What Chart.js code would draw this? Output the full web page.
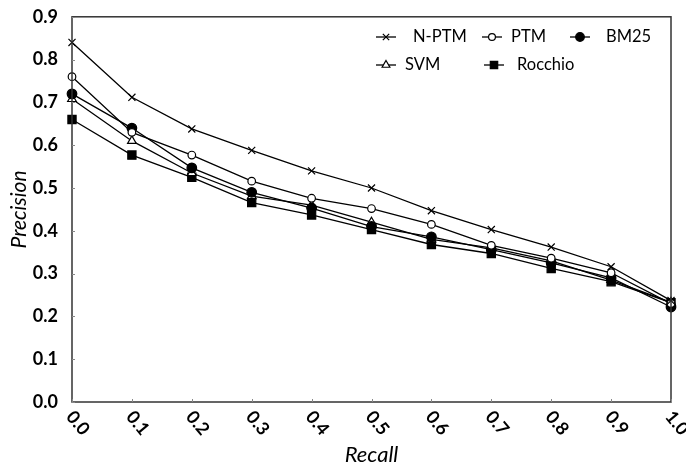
<!DOCTYPE html>
<html><head><meta charset="utf-8">
<script src="https://cdn.jsdelivr.net/npm/chart.js@4"></script>
<style>html,body{margin:0;padding:0;background:#fff}#wrap{width:686px;height:469px;position:relative}</style>
</head><body><div id="wrap"><canvas id="c"></canvas></div>
<script>
const recall = ['0.0','0.1','0.2','0.3','0.4','0.5','0.6','0.7','0.8','0.9','1.0'];
const yTicks = [0,0.1,0.2,0.3,0.4,0.5,0.6,0.7,0.8,0.9];
const seriesNames = ['N-PTM','PTM','BM25','SVM','Rocchio'];
const nptm    = [0.840,0.712,0.638,0.588,0.540,0.500,0.447,0.403,0.362,0.316,0.237];
const ptm     = [0.760,0.630,0.577,0.516,0.476,0.452,0.415,0.366,0.336,0.302,0.230];
const bm25    = [0.720,0.640,0.547,0.490,0.453,0.410,0.386,0.356,0.325,0.290,0.222];
const svm     = [0.708,0.610,0.535,0.481,0.460,0.420,0.380,0.360,0.330,0.285,0.233];
const rocchio = [0.660,0.577,0.525,0.466,0.437,0.403,0.368,0.347,0.312,0.281,0.232];

const styles = [
  {pointStyle:'crossRot', pointRadius:5, pointBackgroundColor:'#000'},
  {pointStyle:'circle', pointRadius:3.8, pointBackgroundColor:'#fff'},
  {pointStyle:'circle', pointRadius:4.8, pointBackgroundColor:'#000'},
  {pointStyle:'triangle', pointRadius:5, pointBackgroundColor:'#fff'},
  {pointStyle:'rect', pointRadius:5.8, pointBackgroundColor:'#000'}
];
const allData = [nptm, ptm, bm25, svm, rocchio];
const datasets = allData.map((d,i)=>Object.assign({
  label: seriesNames[i], data: d, borderColor:'#000', borderWidth:1.3,
  pointBorderColor:'#000', pointBorderWidth:1.2, tension:0, fill:false
}, styles[i]));

const legendPos = [
  {mx:386, my:37, tx:413},
  {mx:492, my:37, tx:511},
  {mx:580, my:37, tx:606},
  {mx:386, my:65, tx:405},
  {mx:494, my:65, tx:517}
];

const decor = {
  id:'decor',
  afterDraw(chart){
    const ctx = chart.ctx, a = chart.chartArea;
    const xs = chart.scales.x, ys = chart.scales.y;
    ctx.save();
    ctx.strokeStyle = '#333'; ctx.lineWidth = 1.5;
    ctx.strokeRect(a.left, a.top, a.right - a.left, a.bottom - a.top);
    ctx.strokeStyle = '#888'; ctx.lineWidth = 1;
    yTicks.forEach(v=>{ const y = Math.round(ys.getPixelForValue(v))+0.5;
      ctx.beginPath(); ctx.moveTo(a.left, y); ctx.lineTo(a.left+3, y); ctx.stroke(); });
    recall.forEach((r,i)=>{ const x = Math.round(xs.getPixelForValue(i))+0.5;
      ctx.beginPath(); ctx.moveTo(x, a.bottom); ctx.lineTo(x, a.bottom-3); ctx.stroke(); });
    ctx.fillStyle = '#000';
    ctx.font = 'bold 18px Lato';
    ctx.textAlign = 'left'; ctx.textBaseline = 'middle';
    recall.forEach((r,i)=>{
      const x = xs.getPixelForValue(i);
      ctx.save();
      ctx.translate(x - 1, a.bottom + 13);
      ctx.rotate(50*Math.PI/180);
      ctx.fillText(r, -2, 0);
      ctx.restore();
    });
    ctx.font = '16.5px Lato';
    ctx.textBaseline = 'middle';
    chart.data.datasets.forEach((ds,i)=>{
      const p = legendPos[i];
      ctx.strokeStyle = '#000'; ctx.lineWidth = 1.3;
      ctx.beginPath(); ctx.moveTo(p.mx-10, p.my); ctx.lineTo(p.mx+10, p.my); ctx.stroke();
      ctx.fillStyle = ds.pointBackgroundColor; ctx.strokeStyle = '#000'; ctx.lineWidth = 1.2;
      Chart.helpers.drawPoint(ctx, {pointStyle: ds.pointStyle, radius: ds.pointRadius*0.9, borderWidth:1.2, rotation:0}, p.mx, p.my);
      ctx.fillStyle = '#000';
      ctx.fillText(ds.label, p.tx, p.my);
    });
    ctx.restore();
  }
};

new Chart(document.getElementById('c'), {
  type:'line',
  data:{ labels: recall, datasets },
  options:{
    responsive:true, maintainAspectRatio:false, animation:false,
    layout:{ padding:{ left:0, right:15, top:11, bottom:0 } },
    plugins:{ legend:{display:false}, tooltip:{enabled:false} },
    scales:{
      x:{
        type:'category', offset:false,
        grid:{display:false}, border:{display:false},
        ticks:{display:false},
        title:{display:true, text:'Recall', color:'#000', font:{family:'Lato', size:22, style:'italic'}, padding:{top:0,bottom:1}},
        afterFit(s){ s.height = 67; }
      },
      y:{
        min:0, max:0.9,
        grid:{display:false}, border:{display:false},
        ticks:{ stepSize:0.1, color:'#000', padding:6, font:{family:'Lato', size:18, weight:'bold'},
          callback:v=>Number(v).toFixed(1) },
        title:{display:true, text:'Precision', color:'#000', font:{family:'Lato', size:21, style:'italic'}, padding:{top:7,bottom:0}},
        afterFit(s){ s.width = 72; }
      }
    }
  },
  plugins:[decor]
});
</script></body></html>
